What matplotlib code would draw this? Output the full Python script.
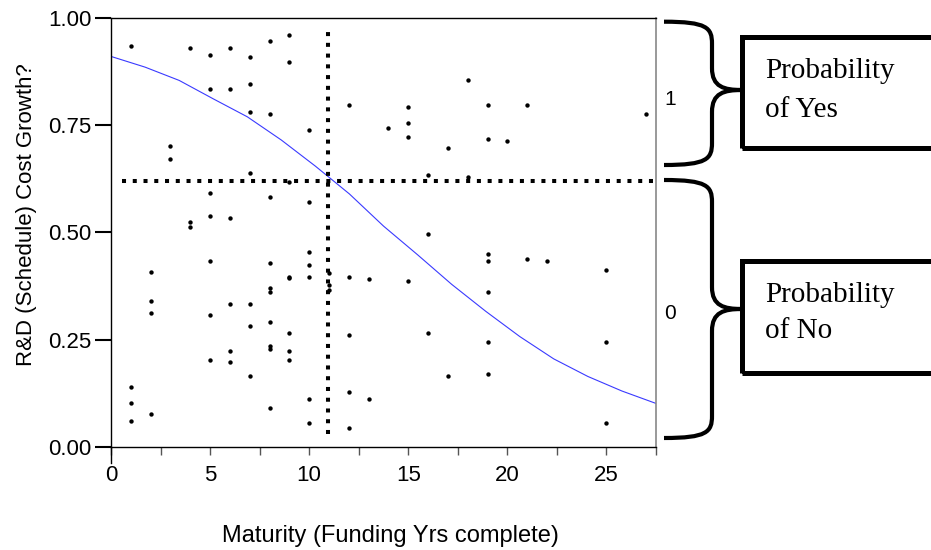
import matplotlib
matplotlib.use('Agg')
from matplotlib import pyplot as plt
from matplotlib.path import Path
from matplotlib.patches import PathPatch, Rectangle
import numpy as np

plt.rcParams['font.family'] = ['Liberation Sans', 'DejaVu Sans']

# years of funding complete vs cost growth (jittered 0/1 response)
yes_x = [1, 4, 5, 6, 7, 8, 9, 9, 5, 6, 7, 7, 8, 10, 3, 3, 7, 9,
         12, 14, 15, 15, 15, 17, 18, 19, 19, 20, 21, 27, 16, 18]
yes_y = [0.935, 0.930, 0.914, 0.930, 0.909, 0.946, 0.962, 0.899, 0.835, 0.835, 0.846, 0.782,
         0.777, 0.740, 0.703, 0.671, 0.640, 0.618,
         0.798, 0.745, 0.793, 0.756, 0.724, 0.698, 0.856, 0.798, 0.719, 0.714, 0.798, 0.777,
         0.635, 0.630]
no_x = [5, 8, 10, 4, 4, 5, 6, 16,
        1, 1, 1, 2, 2, 2, 2, 5, 5, 5, 6, 6, 6, 7, 7, 7,
        8, 8, 8, 8, 8, 8, 8, 9, 9, 9, 9, 9, 10, 10, 10, 10, 10,
        11, 11, 11, 12, 12, 12, 12, 13, 13, 15, 16, 17,
        19, 19, 19, 19, 19, 21, 22, 25, 25, 25]
no_y = [0.592, 0.582, 0.572, 0.525, 0.513, 0.539, 0.534, 0.497,
        0.139, 0.101, 0.059, 0.407, 0.339, 0.313, 0.076, 0.434, 0.308, 0.202, 0.334, 0.223, 0.197,
        0.334, 0.281, 0.165,
        0.429, 0.371, 0.361, 0.292, 0.234, 0.229, 0.091, 0.397, 0.393, 0.265, 0.223, 0.202,
        0.455, 0.424, 0.397, 0.112, 0.055,
        0.405, 0.378, 0.366, 0.397, 0.260, 0.128, 0.044, 0.392, 0.112, 0.386, 0.265, 0.165,
        0.449, 0.434, 0.360, 0.244, 0.170, 0.439, 0.434, 0.413, 0.244, 0.055]

# fitted logistic curve
fit_x = [0, 1.72, 3.44, 5.16, 6.88, 8.59, 10.31, 12.03, 13.75, 15.47, 17.19, 18.91,
         20.63, 22.34, 24.06, 25.78, 27.5]
fit_p = [0.911, 0.886, 0.855, 0.812, 0.770, 0.716, 0.655, 0.590, 0.515, 0.448, 0.379, 0.316,
         0.257, 0.205, 0.164, 0.130, 0.101]

cut_x = 10.93
cut_p = 0.62

W, H = 931, 550
fig = plt.figure(figsize=(W / 100, H / 100), dpi=100)
ax = fig.add_axes([111 / W, 1 - 446.7 / H, 545 / W, 428.4 / H])

ax.scatter(yes_x + no_x, yes_y + no_y, s=10, c='black', linewidths=0, zorder=3)
ax.plot(fit_x, fit_p, color='#3a3aff', lw=0.8, zorder=2)

dots = dict(color='black', lw=2.9, linestyle=(0, (1, 1.67)), dash_capstyle='butt', zorder=4, clip_on=False)
ax.plot([0.55, 27.6], [cut_p, cut_p], **dots)
ax.plot([cut_x, cut_x], [0.03, 0.978], **dots)

ax.set_xlim(0, 27.5)
ax.set_ylim(0, 1)
xt = np.arange(0, 27.6, 2.5)
ax.set_xticks(xt)
ax.set_xticklabels([str(int(v)) if v % 5 == 0 else '' for v in xt])
ax.set_yticks([0, 0.25, 0.5, 0.75, 1.0])
ax.set_yticklabels(['0.00', '0.25', '0.50', '0.75', '1.00'])
ax.tick_params(axis='y', length=11.5, width=1.5, pad=2.5, labelsize=16)
ax.tick_params(axis='x', length=6, width=1, color='#555555', pad=7, labelsize=16)
for s in ['left', 'bottom', 'top']:
    ax.spines[s].set_linewidth(1.0)
ax.spines['right'].set_color('#888888')
ax.spines['right'].set_linewidth(1.2)
# left spine runs a little past the bottom axis
ax.plot([0, 0], [-16 / 428.4, 0], transform=ax.transAxes, color='black', lw=1.0, clip_on=False)

ax.set_xlabel('Maturity (Funding Yrs complete)', fontsize=17)
ax.xaxis.set_label_coords(0.512, -0.183)
ax.set_ylabel('R&D (Schedule) Cost Growth?', fontsize=16)
ax.yaxis.set_label_coords(-0.136, 0.543)

ax.text(1.026, (1 + cut_p) / 2, '1', transform=ax.get_yaxis_transform(), fontsize=15,
        ha='center', va='center')
ax.text(1.026, cut_p / 2, '0', transform=ax.get_yaxis_transform(), fontsize=15,
        ha='center', va='center')


def px(x, y):
    return (x / W, 1 - y / H)


def brace(top, tip, bot, x0=664, xv=712, xt=742, r=22):
    verts = [(x0, top), (xv - 5, top), (xv, top + 6), (xv, top + r),
             (xv, tip - r), (xv, tip - 3), (xt - 18, tip), (xt, tip),
             (xt - 18, tip), (xv, tip + 3), (xv, tip + r),
             (xv, bot - r), (xv, bot - 6), (xv - 5, bot), (x0, bot)]
    codes = [Path.MOVETO, Path.CURVE4, Path.CURVE4, Path.CURVE4,
             Path.LINETO, Path.CURVE4, Path.CURVE4, Path.CURVE4,
             Path.CURVE4, Path.CURVE4, Path.CURVE4,
             Path.LINETO, Path.CURVE4, Path.CURVE4, Path.CURVE4]
    p = Path([px(*v) for v in verts], codes)
    fig.add_artist(PathPatch(p, fill=False, lw=3, ec='black', transform=fig.transFigure,
                             capstyle='butt', joinstyle='round'))


brace(21.7, 90, 165)
brace(180, 309, 438)

for top, bot in [(36.7, 148.3), (261, 373.3)]:
    x0, y0 = px(741.7, bot)
    fig.add_artist(Rectangle((x0, y0), 300 / W, (bot - top) / H, fill=False, lw=3.6,
                             ec='black', transform=fig.transFigure))

serif = dict(family=['Liberation Serif', 'DejaVu Serif'], fontsize=21, va='baseline', ha='left')
fig.text(*px(765, 78.3), 'Probability', **serif)
fig.text(*px(765, 116.7), 'of Yes', **serif)
fig.text(*px(765, 301.7), 'Probability', **serif)
fig.text(*px(765, 338.3), 'of No', **serif)

fig.savefig('out.png', dpi=100)
